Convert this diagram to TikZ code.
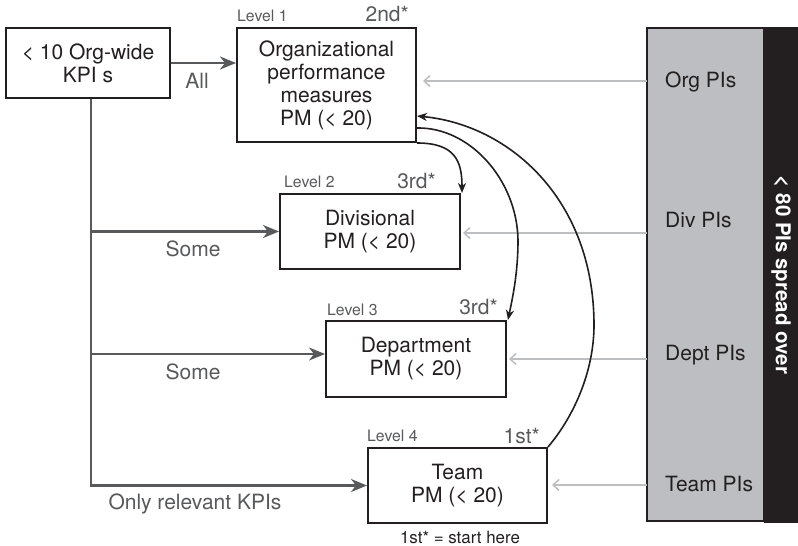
\documentclass[tikz,border=0pt]{standalone}
\usepackage{fontspec}
\setmainfont{TeX Gyre Heros}
\usetikzlibrary{arrows.meta,calc}
\definecolor{ink}{HTML}{231F20}
\definecolor{dgrey}{HTML}{58595B}
\definecolor{lgrey}{HTML}{BCBEC0}
\definecolor{pfill}{HTML}{BDBEC1}
\begin{document}
\begin{tikzpicture}[x=1pt,y=-1pt,
  pmbox/.style={draw=ink, line width=2pt, fill=white, align=center, inner sep=0pt,
    font=\fontsize{21}{23}\selectfont, text=ink},
  lvl/.style={anchor=west, text=dgrey, font=\fontsize{15.8}{18}\selectfont, inner sep=0pt},
  rank/.style={anchor=east, text=dgrey, font=\fontsize{21}{23}\selectfont, inner sep=0pt},
  flowlbl/.style={text=dgrey, font=\fontsize{21}{23}\selectfont, inner sep=0pt},
  kpiarrow/.style={draw=dgrey, line width=2.3pt, -{Stealth[length=16pt,width=13pt,inset=5pt]}},
  piarrow/.style={draw=lgrey, line width=1.5pt, -{Straight Barb[length=6pt,width=11pt]}, shorten >=2pt},
  curvearrow/.style={draw=ink, line width=1.6pt, -{Stealth[length=10pt,width=8pt,inset=3pt]}},
  pitext/.style={anchor=west, text=ink, font=\fontsize{21}{23}\selectfont, inner sep=0pt}]
\useasboundingbox (0,0) rectangle (798,546);

% right panel
\node[fill=ink, minimum width=34pt, minimum height=496pt, inner sep=0pt] (strip) at (781,275) {};
\node[draw=ink, line width=2pt, fill=pfill, minimum width=117pt, minimum height=493pt, inner sep=0pt] (panel) at (705.5,274.5) {};
\node[rotate=-90, text=white, inner sep=0pt, font=\bfseries\fontsize{20.5}{22}\selectfont] (spread) at (strip.center) {< 80 PIs spread over};
\node[pitext] (orgpi) at (665,82) {Org PIs};
\node[pitext] (divpi) at (665,220) {Div PIs};
\node[pitext] (deptpi) at (665,355) {Dept PIs};
\node[pitext] (teampi) at (665,484) {Team PIs};

% boxes
\node[pmbox, minimum width=164pt, minimum height=70pt] (kpi) at (88,63) {< 10 Org-wide\\KPI s};
\node[pmbox, minimum width=179pt, minimum height=114pt] (org) at (326.5,85) {Organizational\\performance\\measures\\PM (< 20)};
\node[pmbox, minimum width=180pt, minimum height=75pt] (div) at (370,231.5) {Divisional\\PM (< 20)};
\node[pmbox, minimum width=180pt, minimum height=76pt] (dept) at (416,359) {Department\\PM (< 20)};
\node[pmbox, minimum width=179pt, minimum height=75pt] (team) at (457.5,485.5) {Team\\PM (< 20)};

% level and rank labels
\node[lvl] (l1) at ([xshift=1pt,yshift=11pt]org.north west) {Level 1};
\node[rank] (r1) at ([xshift=-8pt,yshift=13pt]org.north east) {2nd*};
\node[lvl] (l2) at ([xshift=5pt,yshift=11pt]div.north west) {Level 2};
\node[rank] (r2) at ([xshift=-25pt,yshift=12pt]div.north east) {3rd*};
\node[lvl] (l3) at ([xshift=2pt,yshift=10pt]dept.north west) {Level 3};
\node[rank] (r3) at ([xshift=-9pt,yshift=13pt]dept.north east) {3rd*};
\node[lvl] (l4) at ([xshift=0pt,yshift=11pt]team.north west) {Level 4};
\node[rank] (r4) at ([xshift=-8pt,yshift=11pt]team.north east) {1st*};
\node[text=ink, inner sep=0pt, font=\fontsize{16.9}{19}\selectfont] (start) at (460,537) {1st* = start here};

% KPI connectors
\coordinate (trunk) at ([xshift=3pt]kpi.south);
\coordinate (deptin) at ([yshift=5pt]dept.west);
\draw[kpiarrow] (kpi.east) -- (kpi.east -| org.west);
\draw[kpiarrow] (trunk) |- (team.west);
\draw[kpiarrow] (trunk |- div.west) -- (div.west);
\draw[kpiarrow] (trunk |- deptin) -- (deptin);
\node[flowlbl] (all) at (197,81) {All};
\node[flowlbl] (some1) at (193,249) {Some};
\node[flowlbl] (some2) at (193,372) {Some};
\node[flowlbl] (only) at (195,504) {Only relevant KPIs};

% grey PI arrows
\coordinate (porg) at (647,81);
\coordinate (pdiv) at (647,233);
\coordinate (pdept) at (647,359);
\coordinate (pteam) at (647,485);
\draw[piarrow, shorten >=6pt] (porg) -- (porg -| org.east);
\draw[piarrow] (pdiv) -- (pdiv -| div.east);
\draw[piarrow] (pdept) -- (pdept -| dept.east);
\draw[piarrow, shorten >=4pt] (pteam) -- (pteam -| team.east);

% sequence curves
\draw[curvearrow] (org.south east) .. controls +(38,0) and +(0,-32) .. ([xshift=1pt]div.north east);
\coordinate (c2) at (518,240);
\draw[curvearrow] ([yshift=15pt]org.south east) .. controls (470,127) and (517,180) .. (c2)
  .. controls (518,275) and (512,300) .. ([xshift=1pt]dept.north east);
\coordinate (c3) at (594,325);
\draw[curvearrow] (team.north east) .. controls (575,415) and (594,370) .. (c3)
  .. controls (594,200) and (510,125) .. ([yshift=27pt]org.south east);
\end{tikzpicture}
\end{document}
